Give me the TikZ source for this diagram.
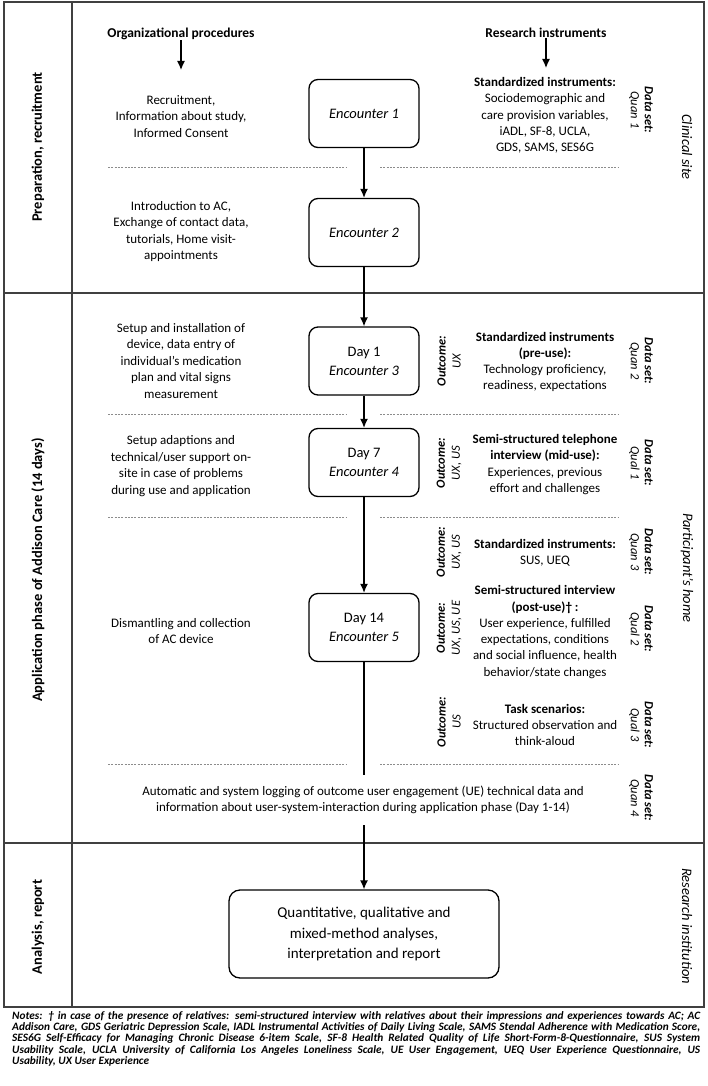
\documentclass[tikz,border=0pt]{standalone}
\usepackage{fontspec}
\setmainfont{Carlito}
\usetikzlibrary{arrows.meta}
\begin{document}
\begin{tikzpicture}[x=1pt,y=-1pt,
  frame/.style={draw=black!75,line width=1.4pt},
  encbox/.style={draw=black,rounded corners=9pt,line width=1.3pt,minimum width=110pt,minimum height=68pt,align=center,inner sep=2pt,font=\fontsize{14.5}{19}\selectfont},
  anbox/.style={draw=black,rounded corners=11pt,line width=1.3pt,minimum width=270pt,minimum height=88pt,align=center,inner sep=2pt,font=\fontsize{15}{20.5}\selectfont},
  lefttxt/.style={align=center,inner sep=0pt,font=\fontsize{13}{16.5}\selectfont},
  righttxt/.style={align=center,inner sep=0pt,font=\fontsize{13}{16.3}\selectfont},
  outc/.style={rotate=90,align=center,inner sep=0pt,font=\fontsize{12.5}{15}\selectfont\itshape},
  dset/.style={rotate=-90,align=center,inner sep=0pt,font=\fontsize{12.5}{14}\selectfont\itshape},
  site/.style={rotate=-90,inner sep=0pt,font=\fontsize{14.5}{17}\selectfont\itshape},
  phase/.style={rotate=90,inner sep=0pt,font=\fontsize{14.5}{17}\selectfont\bfseries},
  hdr/.style={inner sep=0pt,font=\fontsize{13.5}{16}\selectfont\bfseries},
  arr/.style={-{Latex[length=9pt,width=8pt]},line width=1.3pt},
  dots/.style={draw=black!45,dash pattern=on 2pt off 1.3pt,line width=0.8pt}]

\useasboundingbox (0,0) rectangle (708,1086);
\fill[white] (0,0) rectangle (708,1086);

% frame
\draw[frame] (4,2) rectangle (704,1007);
\draw[frame] (72,2) -- (72,1007);
\draw[frame] (4,293) -- (704,293);
\draw[frame] (4,843) -- (704,843);

% phase labels
\node[phase] (p1) at (38,147) {Preparation, recruitment};
\node[phase] (p2) at (38,570) {Application phase of Addison Care (14 days)};
\node[phase] (p3) at (38,927) {Analysis, report};

% site labels
\node[site] (s1) at (687,147) {Clinical site};
\node[site] (s2) at (687,568) {Participant’s home};
\node[site] (s3) at (687,926) {Research institution};

% headers
\node[hdr] (hL) at (181,34) {Organizational procedures};
\node[hdr] (hR) at (546,33) {Research instruments};
\coordinate (hLend) at (181,70);
\coordinate (hRend) at (546,68);
\draw[arr] (hL.south) -- (hLend);
\draw[arr] (hR.south) -- (hRend);

% encounter boxes
\node[encbox] (e1) at (364,113.5) {\textit{Encounter 1}};
\node[encbox] (e2) at (364,232.5) {\textit{Encounter 2}};
\node[encbox] (d1) at (364,361) {Day 1\\\textit{Encounter 3}};
\node[encbox] (d7) at (364,462.5) {Day 7\\\textit{Encounter 4}};
\node[encbox] (d14) at (364,627.5) {Day 14\\\textit{Encounter 5}};
\node[anbox] (an) at (364,934) {Quantitative, qualitative and\\mixed-method analyses,\\interpretation and report};

\draw[arr] (e1) -- (e2);
\draw[arr] (e2) -- (d1);
\draw[arr] (d1) -- (d7);
\draw[arr] (d7) -- (d14);
\draw[arr] (d14) -- (an);

% dotted separators
\foreach \yy in {167,414,517,764}{
  \draw[dots] (108,\yy) -- (347,\yy);
  \draw[dots] (380,\yy) -- (618,\yy);
}

% left texts
\node[lefttxt] (l1) at (181,116.5) {Recruitment,\\Information about study,\\Informed Consent};
\node[lefttxt] (l2) at (181,231.5) {Introduction to AC,\\Exchange of contact data,\\tutorials, Home visit-\\appointments};
\node[lefttxt] (l3) at (181,361) {Setup and installation of\\device, data entry of\\individual’s medication\\plan and vital signs\\measurement};
\node[lefttxt] (l4) at (181,466) {Setup adaptions and\\technical/user support on-\\site in case of problems\\during use and application};
\node[lefttxt] (l5) at (181,631) {Dismantling and collection\\of AC device};

% logging text (covers the central line)
\node[lefttxt,fill=white,inner xsep=4pt,inner ysep=11pt] (lg) at (363,800) {Automatic and system logging of outcome user engagement (UE) technical data and\\information about user-system-interaction during application phase (Day 1-14)};

% right texts
\node[righttxt] (r1) at (545,115.5) {\textbf{Standardized instruments:}\\Sociodemographic and\\care provision variables,\\iADL, SF-8, UCLA,\\GDS, SAMS, SES6G};
\node[righttxt] (r2) at (545,362) {\textbf{Standardized instruments}\\\textbf{(pre-use):}\\Technology proficiency,\\readiness, expectations};
\node[righttxt] (r3) at (545,464.5) {\textbf{Semi-structured telephone}\\\textbf{interview (mid-use):}\\Experiences, previous\\effort and challenges};
\node[righttxt] (r4) at (545,552.5) {\textbf{Standardized instruments:}\\SUS, UEQ};
\node[righttxt] (r5) at (545,632) {\textbf{Semi-structured interview}\\\textbf{(post-use)† :}\\User experience, fulfilled\\expectations, conditions\\and social influence, health\\behavior/state changes};
\node[righttxt] (r6) at (545,725) {\textbf{Task scenarios:}\\Structured observation and\\think-aloud};

% outcome labels
\node[outc] (o1) at (449,361) {\textbf{Outcome:}\\UX};
\node[outc] (o2) at (449,463) {\textbf{Outcome:}\\UX, US};
\node[outc] (o3) at (449,552) {\textbf{Outcome:}\\UX, US};
\node[outc] (o4) at (449,628) {\textbf{Outcome:}\\UX, US, UE};
\node[outc] (o5) at (449,722) {\textbf{Outcome:}\\US};

% data set labels
\node[dset] (q1) at (641,110) {\textbf{Data set:}\\Quan 1};
\node[dset] (q2) at (641,361) {\textbf{Data set:}\\Quan 2};
\node[dset] (q3) at (641,463) {\textbf{Data set:}\\Qual 1};
\node[dset] (q4) at (641,552) {\textbf{Data set:}\\Quan 3};
\node[dset] (q5) at (641,629) {\textbf{Data set:}\\Qual 2};
\node[dset] (q6) at (641,725) {\textbf{Data set:}\\Qual 3};
\node[dset] (q7) at (641,798) {\textbf{Data set:}\\Quan 4};

% notes
\node[anchor=north west,text width=688pt,inner sep=0pt,align=justify,font=\fontsize{11.3}{11.4}\selectfont\bfseries\itshape] (notes) at (12,1011)
{\tolerance=10000 Notes: † in case of the presence of relatives: semi-structured interview with relatives about their impressions and experiences towards AC; AC\linebreak
Addison Care, GDS Geriatric Depression Scale, IADL Instrumental Activities of Daily Living Scale, SAMS Stendal Adherence with Medication Score,\linebreak
SES6G Self-Efficacy for Managing Chronic Disease 6-item Scale, SF-8 Health Related Quality of Life Short-Form-8-Questionnaire, SUS System\linebreak
Usability Scale, UCLA University of California Los Angeles Loneliness Scale, UE User Engagement, UEQ User Experience Questionnaire, US\linebreak
Usability, UX User Experience\par};
\end{tikzpicture}
\end{document}
